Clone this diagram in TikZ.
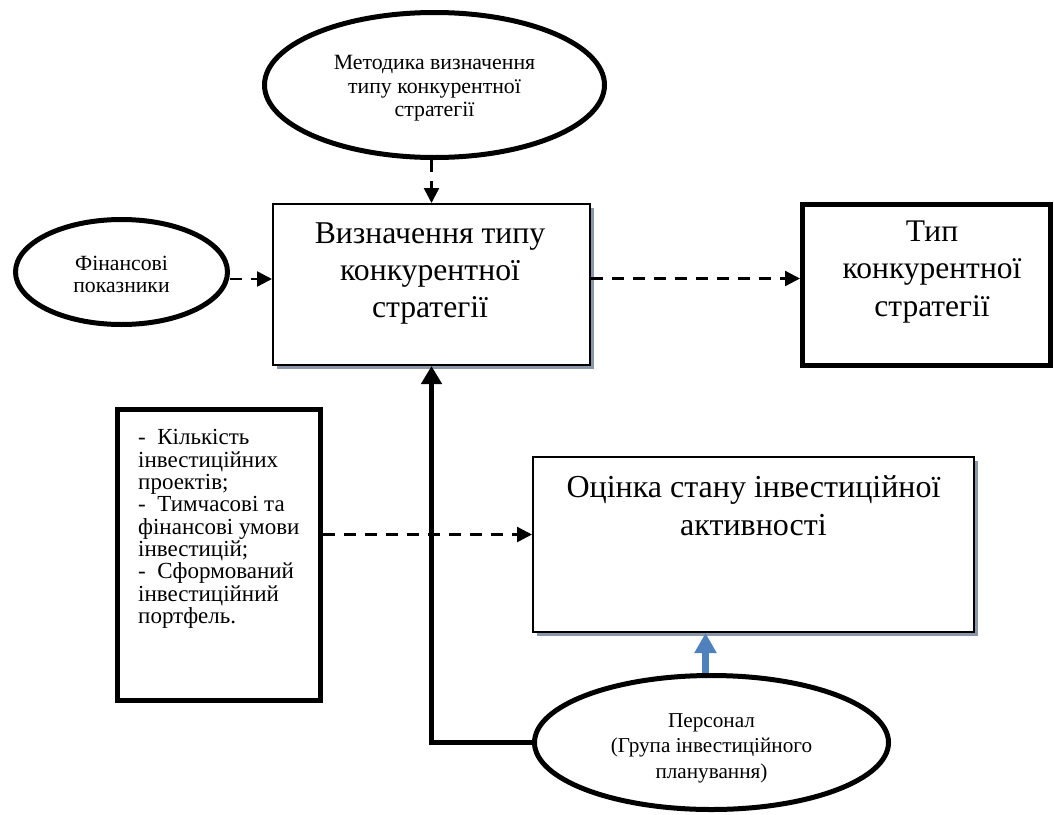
\documentclass[tikz,border=0pt]{standalone}
\usepackage{fontspec}
\setmainfont{Liberation Serif}
\usetikzlibrary{arrows.meta,shapes.geometric,shadows,calc}

\definecolor{shadowc}{RGB}{138,151,168}
\definecolor{bluearrow}{RGB}{79,129,189}

\tikzset{
  thinbox/.style={draw, line width=2pt, fill=white, inner sep=0pt,
    general shadow={fill=shadowc, shadow xshift=4pt, shadow yshift=-4pt}},
  thickbox/.style={draw, line width=5pt, fill=white, inner sep=0pt},
  oval/.style={ellipse, draw, line width=5pt, fill=white, inner sep=0pt, align=center},
  txt/.style={inner sep=0pt, align=center},
  dasharrow/.style={line width=2.4pt, dash pattern=on 12pt off 9pt,
    -{Triangle[length=15pt,width=15pt]}},
  heavyarrow/.style={line width=5.5pt, -{Triangle[length=18pt,width=20pt]}},
  bluearr/.style={line width=7pt, color=bluearrow,
    -{Triangle[length=20pt,width=21pt]}},
}

\begin{document}
\begin{tikzpicture}[x=1pt,y=-1pt]
\useasboundingbox (0,0) rectangle (1054,814);

% central process box and its text
\node[thinbox, minimum width=317pt, minimum height=161pt] (main) at (431.5,284.5) {};
\node[txt, font=\fontsize{31.7}{37}\selectfont] (maintxt) at (430,273)
  {Визначення типу\\конкурентної\\стратегії};

% result box
\node[thickbox, minimum width=248pt, minimum height=161pt] (type) at (926.5,285) {};
\node[txt, font=\fontsize{31.5}{37.5}\selectfont] (typetxt) at (932,272)
  {Тип\\конкурентної\\стратегії};

% assessment box
\node[thinbox, minimum width=441pt, minimum height=175pt] (ocinka) at (753.5,544.5) {};
\node[txt, font=\fontsize{32}{38}\selectfont] (ocinkatxt) at (753.5,506)
  {Оцінка стану інвестиційної\\активності};

% list of input data
\node[thickbox, minimum width=203pt, minimum height=291pt] (list) at (219,555) {};
\node[txt, anchor=west, align=left, font=\fontsize{23}{22.3}\selectfont] (listtxt) at (138,529)
  {-~ Кількість\\інвестиційних\\проектів;\\-~ Тимчасові та\\фінансові умови\\інвестицій;\\-~ Сформований\\інвестиційний\\портфель.};

% ovals (a strut on the first line lowers the text a little)
\node[oval, minimum width=340pt, minimum height=145pt, font=\fontsize{21.8}{23.5}\selectfont] (method) at (434.5,85)
  {\rule{0pt}{21pt}Методика визначення\\типу конкурентної\\стратегії};
\node[oval, minimum width=212pt, minimum height=105pt, font=\fontsize{21.7}{22.5}\selectfont] (fin) at (121.5,272)
  {\rule{0pt}{19pt}Фінансові\\показники};
\node[oval, minimum width=354pt, minimum height=134pt, font=\fontsize{21.2}{25.5}\selectfont] (pers) at (711.5,742.5)
  {\rule{0pt}{25pt}Персонал\\(Група інвестиційного\\планування)};

% connectors
\draw[dasharrow] (main.north |- method.south) -- (main.north);
\coordinate (finout) at ($(fin.east)+(0,7)$);
\draw[dasharrow] (finout) -- (finout -| main.west);
\coordinate (mainout) at ($(main.east)+(0,-6)$);
\draw[dasharrow] (mainout) -- (mainout -| type.west);
\coordinate (ocin) at ($(ocinka.west)+(0,-10)$);
\draw[dasharrow] (ocin -| list.east) -- (ocin);
\draw[heavyarrow] (pers.west) -| (main.south);
\coordinate (persup) at ($(pers.north)+(-6,0)$);
\draw[bluearr] (persup) -- (persup |- ocinka.south);
\end{tikzpicture}
\end{document}
